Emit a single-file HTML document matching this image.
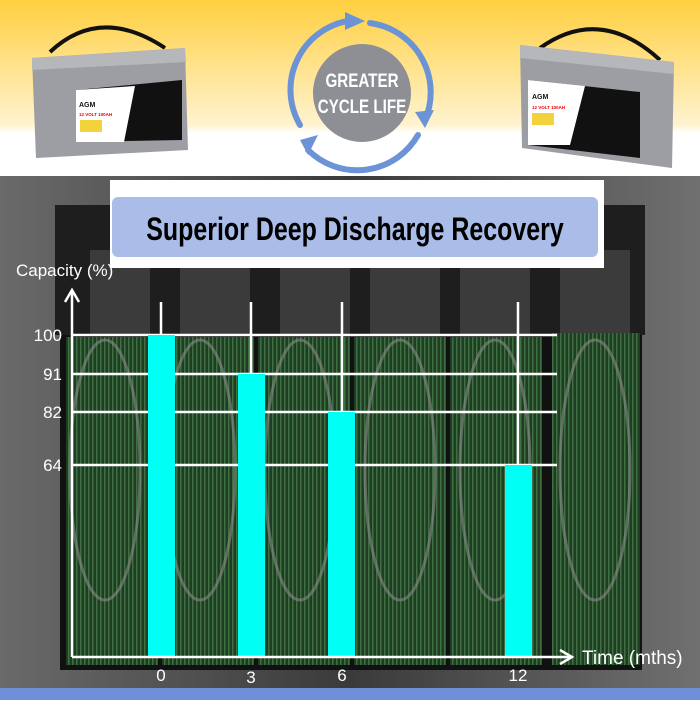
<!DOCTYPE html>
<html><head><meta charset="utf-8"><style>
body{margin:0;width:700px;height:700px;overflow:hidden;font-family:"Liberation Sans",sans-serif}
</style></head><body>
<svg width="700" height="700" viewBox="0 0 700 700" xmlns="http://www.w3.org/2000/svg">
<defs>
<linearGradient id="top" x1="0" y1="0" x2="0" y2="1">
<stop offset="0" stop-color="#ffcf40"/><stop offset="0.7" stop-color="#fff3cf"/><stop offset="0.75" stop-color="#ffffff"/><stop offset="1" stop-color="#ffffff"/>
</linearGradient>
<linearGradient id="bg" x1="0" y1="0" x2="1" y2="0">
<stop offset="0" stop-color="#6a6a6a"/><stop offset="0.5" stop-color="#3a3a3a"/><stop offset="1" stop-color="#707070"/>
</linearGradient>
<pattern id="stripes" width="4" height="10" patternUnits="userSpaceOnUse">
<rect width="4" height="10" fill="#1f3d22"/><rect width="1.5" height="10" fill="#3f6f42"/>
</pattern>
</defs>
<rect width="700" height="178" fill="url(#top)"/>
<rect y="176" width="700" height="512" fill="url(#bg)"/>
<rect x="55" y="205" width="590" height="130" fill="#1e1e1e"/>
<g fill="#3b3b3b"><rect x="90" y="250" width="60" height="85"/><rect x="180" y="250" width="70" height="85"/><rect x="280" y="250" width="70" height="85"/><rect x="370" y="250" width="70" height="85"/><rect x="460" y="250" width="70" height="85"/><rect x="560" y="250" width="70" height="85"/></g>
<rect x="60" y="335" width="582" height="335" fill="#111"/>
<g fill="url(#stripes)">
<rect x="66" y="337" width="92" height="328"/><rect x="162" y="337" width="92" height="328"/><rect x="258" y="337" width="92" height="328"/><rect x="354" y="337" width="92" height="328"/><rect x="450" y="337" width="92" height="328"/><rect x="552" y="333" width="88" height="332"/>
</g>
<g fill="none" stroke="#8a8a8a" stroke-width="3" opacity="0.6">
<ellipse cx="105" cy="470" rx="35" ry="130"/><ellipse cx="200" cy="470" rx="35" ry="130"/><ellipse cx="300" cy="470" rx="35" ry="130"/><ellipse cx="400" cy="470" rx="35" ry="130"/><ellipse cx="495" cy="470" rx="35" ry="130"/><ellipse cx="595" cy="470" rx="35" ry="130"/>
</g>
<!-- left battery -->
<g>
<path d="M50 52 Q100 5 165 48" stroke="#111" stroke-width="4" fill="none"/>
<polygon points="32,58 185,48 188,150 36,158" fill="#9c9ea3"/>
<polygon points="32,58 185,48 186,62 32,70" fill="#b5b7bb"/>
<polygon points="76,90 182,80 182,140 76,142" fill="#111"/>
<polygon points="76,90 135,86 124,142 76,142" fill="#fff"/>
<text x="79" y="107" font-size="7" font-weight="bold" fill="#111">AGM</text>
<text x="79" y="116" font-size="4.5" font-weight="bold" fill="#e00">12 VOLT 100AH</text>
<rect x="80" y="120" width="22" height="12" fill="#f3d33b"/>
</g>
<!-- right battery -->
<g>
<path d="M540 48 Q600 5 660 60" stroke="#111" stroke-width="4" fill="none"/>
<polygon points="520,45 674,62 672,168 522,148" fill="#9c9ea3"/>
<polygon points="520,45 674,62 674,74 520,58" fill="#b5b7bb"/>
<polygon points="528,80 640,92 640,158 528,145" fill="#111"/>
<polygon points="528,80 585,86 570,145 528,145" fill="#fff"/>
<text x="532" y="99" font-size="7" font-weight="bold" fill="#111">AGM</text>
<text x="532" y="109" font-size="4.5" font-weight="bold" fill="#e00">12 VOLT 100AH</text>
<rect x="532" y="113" width="22" height="12" fill="#f3d33b"/>
</g>
<!-- cycle -->
<circle cx="362" cy="93" r="49" fill="#8e8f94"/>
<text x="362" y="87" font-size="19" font-weight="bold" fill="#fff" text-anchor="middle" transform="translate(362 0) scale(0.8 1) translate(-362 0)">GREATER</text>
<text x="362" y="113" font-size="19" font-weight="bold" fill="#fff" text-anchor="middle" transform="translate(362 0) scale(0.8 1) translate(-362 0)">CYCLE LIFE</text>
<g fill="none" stroke="#6b93d6" stroke-width="6" stroke-linecap="round">
<path d="M300 125 A70 70 0 0 1 355 20"/>
<path d="M370 23 A70 70 0 0 1 425 120"/>
<path d="M418 135 A70 70 0 0 1 308 150"/>
</g>
<g fill="#6b93d6">
<polygon points="345,12 365,21 345,30"/>
<polygon points="415,112 434,110 425,128"/>
<polygon points="300,140 318,135 308,155"/>
</g>
<!-- title -->
<rect x="110" y="180" width="494" height="88" fill="#fff"/>
<rect x="112" y="197" width="486" height="60" rx="6" fill="#a9bde8"/>
<text x="355" y="240" font-size="32" font-weight="bold" fill="#000" text-anchor="middle" transform="translate(355 0) scale(0.78 1) translate(-355 0)">Superior Deep Discharge Recovery</text>
<!-- chart -->
<g stroke="#fff" stroke-width="2.5" fill="none">
<line x1="72" y1="335" x2="557" y2="335"/><line x1="72" y1="374" x2="557" y2="374"/><line x1="72" y1="412" x2="557" y2="412"/><line x1="72" y1="465" x2="557" y2="465"/>
<line x1="161" y1="302" x2="161" y2="335"/><line x1="251" y1="302" x2="251" y2="374"/><line x1="342" y1="302" x2="342" y2="412"/><line x1="518" y1="302" x2="518" y2="465"/>
</g>
<g fill="#00fff5">
<rect x="148" y="335" width="27" height="322"/><rect x="238" y="374" width="27" height="283"/><rect x="328" y="412" width="27" height="245"/><rect x="505" y="465" width="27" height="192"/>
</g>
<g stroke="#fff" stroke-width="2.5" fill="none">
<line x1="72" y1="657" x2="72" y2="292"/><polyline points="65,302 72,290 79,302"/>
<line x1="72" y1="657" x2="570" y2="657"/><polyline points="560,650 572,657 560,664"/>
</g>
<g fill="#fff" font-size="17">
<text x="16" y="276">Capacity (%)</text>
<text x="62" y="341" text-anchor="end">100</text><text x="62" y="380" text-anchor="end">91</text><text x="62" y="418" text-anchor="end">82</text><text x="62" y="471" text-anchor="end">64</text>
<text x="582" y="664" font-size="19">Time (mths)</text>
<text x="161" y="681" text-anchor="middle">0</text><text x="251" y="683" text-anchor="middle">3</text><text x="342" y="681" text-anchor="middle">6</text><text x="518" y="681" text-anchor="middle">12</text>
</g>
<rect y="688" width="700" height="12" fill="#6f8fd8"/>
</svg>
</body></html>
